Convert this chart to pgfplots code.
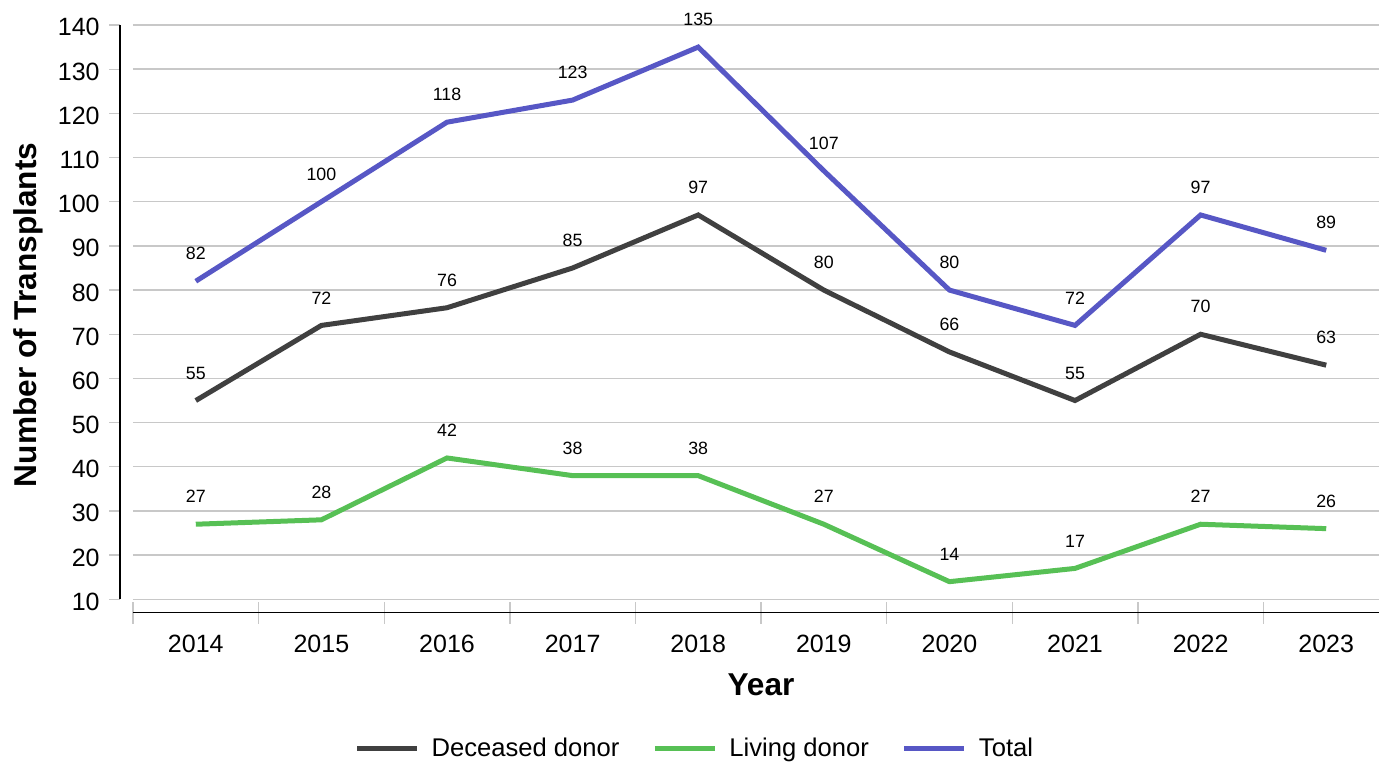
\documentclass[border=0pt]{standalone}
\usepackage{fontspec}
\setmainfont{Liberation Sans}
\usepackage{pgfplots}
\pgfplotsset{compat=1.18}
\definecolor{deccol}{RGB}{64,64,64}
\definecolor{livcol}{RGB}{87,192,85}
\definecolor{totcol}{RGB}{87,87,197}
\definecolor{gridcol}{RGB}{200,200,200}
\begin{document}
\begin{tikzpicture}
% separate y axis (line, ticks, labels)
\begin{axis}[
  at={(-6.5pt,6.65pt)}, anchor=south west,
  scale only axis, width=10pt, height=287.15pt,
  xmin=0, xmax=1, ymin=10, ymax=140,
  axis x line=none, axis y line*=left,
  y axis line style={black, line width=0.85pt, -},
  ytick={10,20,...,140},
  tick align=outside, major tick length=5.5pt,
  ytick style={gridcol, line width=0.65pt},
  yticklabel style={anchor=east, inner sep=0pt, xshift=-4.5pt, yshift=-1.2pt, font=\fontsize{12.5}{14}\selectfont},
  /pgf/number format/assume math mode=true,
]
\end{axis}
% main axis
\begin{axis}[
  at={(0pt,0pt)}, anchor=south west,
  scale only axis, width=628pt, height=293.8pt,
  xmin=-0.5, xmax=9.5, ymin=7, ymax=140,
  clip=false,
  axis x line*=bottom, axis y line*=left,
  y axis line style={draw=none},
  x axis line style={black, line width=0.85pt, -},
  xtick={0,1,2,3,4,5,6,7,8,9},
  xticklabels={2014,2015,2016,2017,2018,2019,2020,2021,2022,2023},
  minor xtick={-0.5,0.5,1.5,2.5,3.5,4.5,5.5,6.5,7.5,8.5,9.5},
  major tick length=0pt,
  minor tick length=11pt,
  tick align=center,
  minor tick style={gridcol, line width=0.7pt},
  xticklabel style={anchor=north, inner sep=0pt, yshift=-11.2pt, font=\fontsize{12.5}{14}\selectfont},
  ytick={10,20,...,140},
  yticklabels={},
  ymajorgrids,
  y grid style={gridcol, line width=0.7pt},
  /pgf/number format/assume math mode=true,
  xlabel={Year},
  xlabel style={at={(axis description cs:0.5,-0.1226)}, anchor=center, inner sep=0pt, font=\bfseries\fontsize{15.8}{18}\selectfont},
  ylabel={Number of Transplants},
  ylabel style={at={(axis description cs:-0.07723,0.5065)}, rotate=0, anchor=base, inner sep=0pt, font=\bfseries\fontsize{15.8}{18}\selectfont},
  legend columns=3,
  legend style={at={(axis description cs:0.4465,-0.2318)}, anchor=center, draw=none, fill=none, inner sep=0pt,
    font=\fontsize{12.8}{15}\selectfont, nodes={inner sep=0pt},
    /tikz/every odd column/.append style={column sep=6pt},
    /tikz/every even column/.append style={column sep=16.5pt}},
  legend image code/.code={\draw[#1, line width=2.5pt] (0pt,0pt) -- (30pt,0pt);},
  every node near coord/.append style={font=\fontsize{8.9}{10}\selectfont, black, anchor=center, yshift=13.75pt, inner sep=0pt},
]
\addplot[deccol, line width=2.5pt, nodes near coords] coordinates {
  (0,55) (1,72) (2,76) (3,85) (4,97) (5,80) (6,66) (7,55) (8,70) (9,63)};
\addlegendentry{Deceased donor}
\addplot[livcol, line width=2.5pt, nodes near coords] coordinates {
  (0,27) (1,28) (2,42) (3,38) (4,38) (5,27) (6,14) (7,17) (8,27) (9,26)};
\addlegendentry{Living donor}
\addplot[totcol, line width=2.5pt, nodes near coords] coordinates {
  (0,82) (1,100) (2,118) (3,123) (4,135) (5,107) (6,80) (7,72) (8,97) (9,89)};
\addlegendentry{Total}
\end{axis}
\pgfresetboundingbox
\path (-66.5pt,-75.2pt) rectangle (623pt,306.3pt);
\end{tikzpicture}
\end{document}
